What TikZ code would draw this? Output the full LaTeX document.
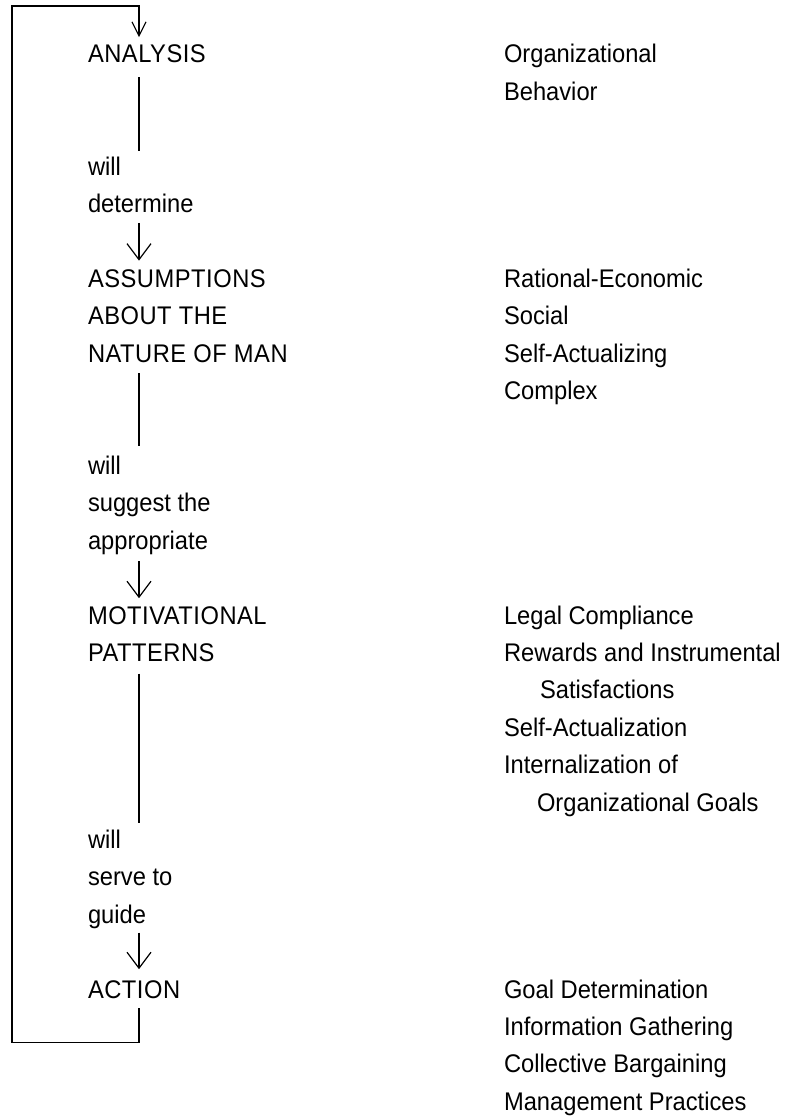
\documentclass[tikz,border=0pt]{standalone}
\usepackage{fontspec}
\setmainfont[FakeStretch=0.93]{Liberation Sans}
\newfontfamily\capsfont[FakeStretch=0.93,LetterSpace=2]{Liberation Sans}
\usetikzlibrary{arrows.meta,calc}
\tikzset{
  txt/.style={anchor=base west, inner sep=0pt, outer sep=0pt, font=\fontsize{25.5}{37.4}\selectfont},
  captxt/.style={txt, font=\fontsize{25.5}{37.4}\selectfont\capsfont},
  conn/.style={line width=1.3pt},
  arr/.style={line width=1.3pt, -{Straight Barb[length=16pt,width=24pt,line width=1.2pt]}},
  toparr/.style={line width=1.3pt, -{Straight Barb[length=14pt,width=14pt,line width=1.2pt]}}
}
\begin{document}
\begin{tikzpicture}[x=1pt,y=-1pt]
\useasboundingbox[fill=white] (0,0) rectangle (788,1118);
\coordinate (axis) at (139,0);
\coordinate (loopl) at (12,0);
% left column
\node[captxt] (analysis) at (88,63) {ANALYSIS};
\node[txt] (will1) at (88,175.2) {will};
\node[txt] (determine) at (88,212.6) {determine};
\node[captxt] (assump) at (88,287.4) {ASSUMPTIONS};
\node[captxt] (about) at (88,324.8) {ABOUT THE};
\node[captxt] (nature) at (88,362.2) {NATURE OF MAN};
\node[txt] (will2) at (88,474.4) {will};
\node[txt] (suggest) at (88,511.8) {suggest the};
\node[txt] (approp) at (88,549.2) {appropriate};
\node[captxt] (motiv) at (88,624) {MOTIVATIONAL};
\node[captxt] (patterns) at (88,661.4) {PATTERNS};
\node[txt] (will3) at (88,848.4) {will};
\node[txt] (serve) at (88,885.8) {serve to};
\node[txt] (guide) at (88,923.2) {guide};
\node[captxt] (action) at (88,998) {ACTION};
% right column
\node[txt] (r1) at (504,63) {Organizational};
\node[txt] (r2) at (504,100.4) {Behavior};
\node[txt] (r3) at (504,287.4) {Rational-Economic};
\node[txt] (r4) at (504,324.8) {Social};
\node[txt] (r5) at (504,362.2) {Self-Actualizing};
\node[txt] (r6) at (504,399.6) {Complex};
\node[txt] (r7) at (504,624) {Legal Compliance};
\node[txt] (r8) at (504,661.4) {Rewards and Instrumental};
\node[txt] (r9) at (540,698.8) {Satisfactions};
\node[txt] (r10) at (504,736.2) {Self-Actualization};
\node[txt] (r11) at (504,773.6) {Internalization of};
\node[txt] (r12) at (537,811) {Organizational Goals};
\node[txt] (r13) at (504,998) {Goal Determination};
\node[txt] (r14) at (504,1035.4) {Information Gathering};
\node[txt] (r15) at (504,1072.8) {Collective Bargaining};
\node[txt] (r16) at (504,1110.2) {Management Practices};
% connectors
\draw[conn] ($(analysis.south -| axis)+(0,14)$) -- ($(will1.north -| axis)+(0,-6)$);
\draw[arr] ($(determine.south -| axis)+(0,10)$) -- ($(assump.north -| axis)+(0,-9)$);
\draw[conn] ($(nature.south -| axis)+(0,11)$) -- ($(will2.north -| axis)+(0,-10)$);
\draw[arr] ($(approp.south -| axis)+(0,7)$) -- ($(motiv.north -| axis)+(0,-8)$);
\draw[conn] ($(patterns.south -| axis)+(0,12)$) -- ($(will3.north -| axis)+(0,-7)$);
\draw[arr] ($(guide.south -| axis)+(0,4)$) -- ($(action.north -| axis)+(0,-11)$);
\draw[toparr] ($(action.south -| axis)+(0,10)$) -- ++(0,34) -| ($(loopl)+(0,6)$) -| ($(analysis.north -| axis)+(0,-8)$);
\end{tikzpicture}
\end{document}
